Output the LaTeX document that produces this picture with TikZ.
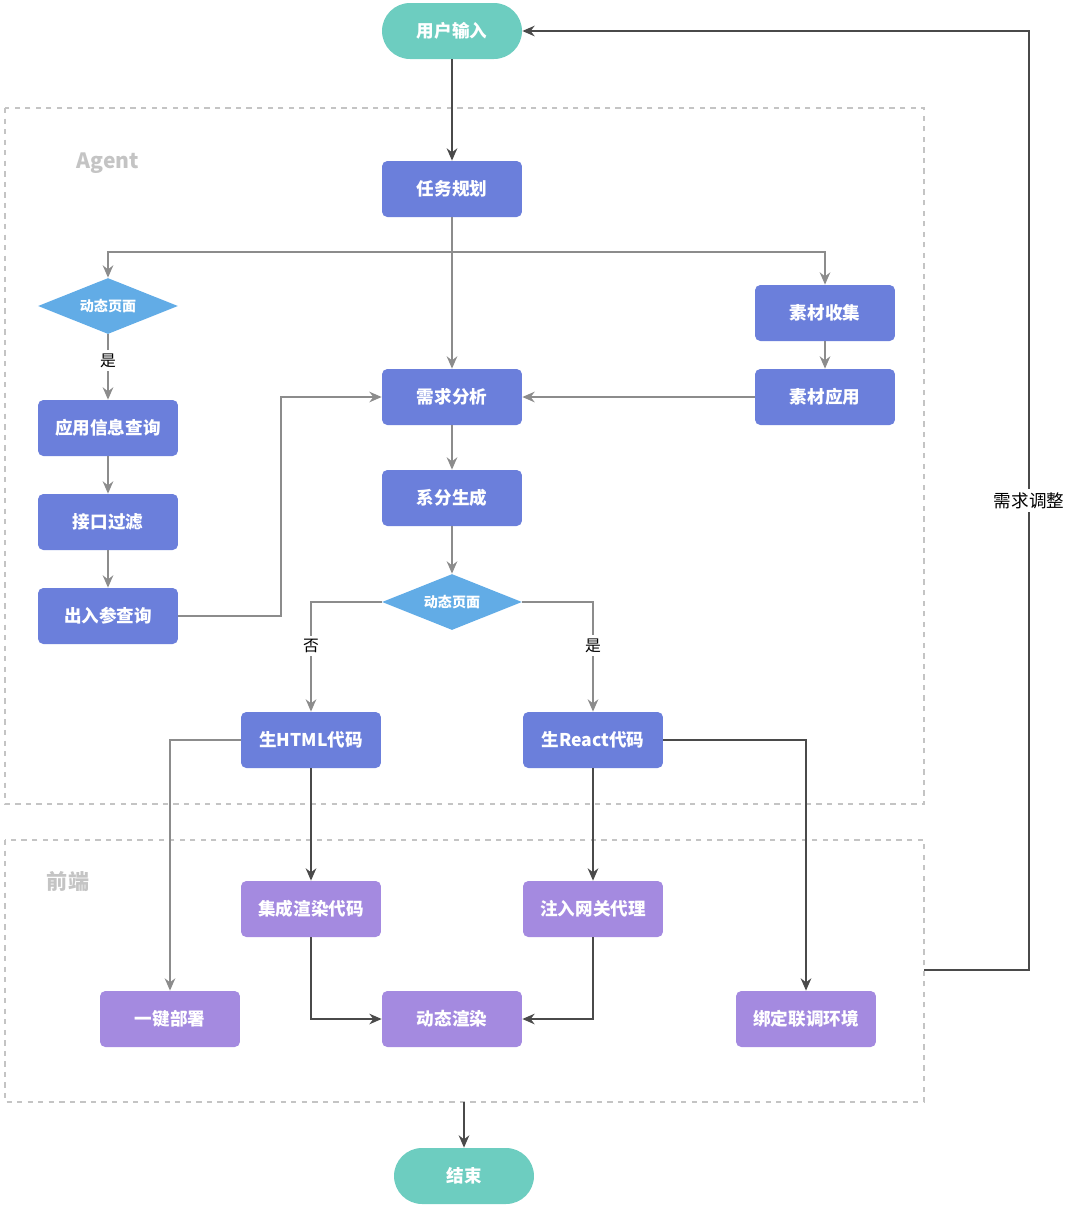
\documentclass[tikz,border=0pt]{standalone}
\usepackage{fontspec}
\setmainfont{Noto Sans CJK SC}
\usetikzlibrary{shapes.geometric, arrows.meta}
\definecolor{boxblue}{HTML}{6B7FDB}
\definecolor{boxpurple}{HTML}{A48AE0}
\definecolor{pillteal}{HTML}{6DCDC0}
\definecolor{diablue}{HTML}{62ACE6}
\definecolor{linegray}{HTML}{8C8C8C}
\definecolor{linedark}{HTML}{4A4A4A}
\definecolor{framegray}{HTML}{C4C4C4}
\tikzset{
  base/.style={text=white, font=\bfseries\fontsize{10}{12}\selectfont, inner sep=0pt},
  taskbox/.style={base, fill=boxblue, rounded corners=3pt, minimum width=2.8cm, minimum height=1.12cm},
  frontbox/.style={taskbox, fill=boxpurple},
  pill/.style={base, fill=pillteal, rounded corners=0.56cm, minimum width=2.8cm, minimum height=1.12cm},
  choice/.style={base, diamond, fill=diablue, aspect=2.5, minimum width=2.8cm, minimum height=1.12cm, font=\bfseries\fontsize{8}{10}\selectfont},
  lite/.style={-{Stealth[length=7pt,width=6pt]}, linegray, line width=1.1pt},
  heavy/.style={-{Stealth[length=7pt,width=6pt]}, linedark, line width=1.1pt},
  frame/.style={framegray, dashed, line width=1pt},
  yes/.style={fill=white, font=\fontsize{9}{11}\selectfont, text=black, inner sep=2pt},
}
\begin{document}
\begin{tikzpicture}[x=0.02cm, y=-0.02cm]
\useasboundingbox (0,0) rectangle (1080,1208);

% Frames
\draw[frame] (5,108) rectangle (924,804);
\draw[frame] (5,840) rectangle (924,1102);
\node[text=framegray, font=\bfseries\fontsize{12}{14}\selectfont] at (108,163) {Agent};
\node[text=framegray, font=\bfseries\fontsize{12}{14}\selectfont] at (68,881) {前端};

% Nodes
\node[pill] (input) at (452,31) {用户输入};
\node[taskbox] (plan) at (452,189) {任务规划};
\node[choice] (dyn1) at (108,306) {动态页面};
\node[taskbox] (collect) at (825,313) {素材收集};
\node[taskbox] (apply) at (825,397) {素材应用};
\node[taskbox] (need) at (452,397) {需求分析};
\node[taskbox] (query) at (108,428) {应用信息查询};
\node[taskbox] (filter) at (108,522) {接口过滤};
\node[taskbox] (param) at (108,616) {出入参查询};
\node[taskbox] (gen) at (452,498) {系分生成};
\node[choice] (dyn2) at (452,602) {动态页面};
\node[taskbox] (html) at (311,740) {生HTML代码};
\node[taskbox] (react) at (593,740) {生React代码};
\node[frontbox] (integ) at (311,909) {集成渲染代码};
\node[frontbox] (inject) at (593,909) {注入网关代理};
\node[frontbox] (deploy) at (170,1019) {一键部署};
\node[frontbox] (render) at (452,1019) {动态渲染};
\node[frontbox] (bind) at (806,1019) {绑定联调环境};
\node[pill] (done) at (464,1176) {结束};

\coordinate (frontright) at (924,970);
\coordinate (frontbottom) at (464,1102);
\coordinate (split) at (452,252);

% Connectors
\draw[heavy] (input) -- (plan);
\draw[lite] (plan) -- (need);
\draw[lite] (split) -| (dyn1.north);
\draw[lite] (split) -| (collect.north);
\draw[lite] (dyn1) -- node[yes, pos=0.4] {是} (query);
\draw[lite] (query) -- (filter);
\draw[lite] (filter) -- (param);
\draw[lite] (param.east) -- (281,616) |- (need.west);
\draw[lite] (collect) -- (apply);
\draw[lite] (apply) -- (need);
\draw[lite] (need) -- (gen);
\draw[lite] (gen) -- (dyn2);
\draw[lite] (dyn2.west) -| node[yes, pos=0.7] {否} (html.north);
\draw[lite] (dyn2.east) -| node[yes, pos=0.7] {是} (react.north);
\draw[lite] (html.west) -| (deploy.north);
\draw[heavy] (html) -- (integ);
\draw[heavy] (react) -- (inject);
\draw[heavy] (react.east) -| (bind.north);
\draw[heavy] (integ.south) |- (render.west);
\draw[heavy] (inject.south) |- (render.east);
\draw[heavy] (frontbottom) -- (done);
\draw[heavy] (frontright) -- (1029,970) -- node[yes, font=\fontsize{10}{12}\selectfont] {需求调整} (1029,31) -- (input.east);

\end{tikzpicture}
\end{document}
